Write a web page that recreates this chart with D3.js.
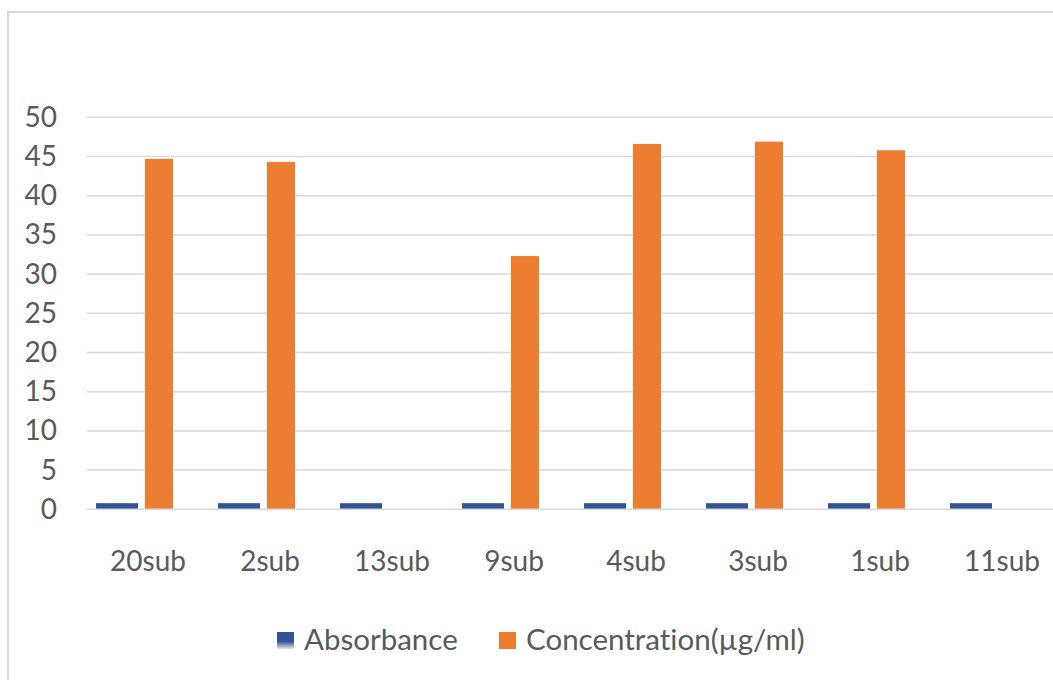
<!DOCTYPE html>
<html>
<head>
<meta charset="utf-8">
<script src="https://cdn.jsdelivr.net/npm/d3@7/dist/d3.min.js"></script>
<style>
  html, body { margin: 0; padding: 0; background: #ffffff; }
  svg { display: block; }
  text { font-family: Lato, "Open Sans", sans-serif; fill: #595959; font-variant-ligatures: none; font-feature-settings: "liga" 0, "clig" 0; }
</style>
</head>
<body>
<svg id="chart" width="1053" height="680"></svg>
<script>
// Samples on the x axis
const categories = ["20sub", "2sub", "13sub", "9sub", "4sub", "3sub", "1sub", "11sub"];
// Series values
const absorbance = [0.78, 0.78, 0.78, 0.78, 0.78, 0.78, 0.78, 0.78];
const concentration = [44.7, 44.3, 0, 32.3, 46.6, 46.9, 45.8, 0];
// Value axis ticks
const yTicks = [0, 5, 10, 15, 20, 25, 30, 35, 40, 45, 50];
const seriesNames = ["Absorbance", "Concentration(\u00b5g/ml)"];

const colors = { abs: "#2f5597", conc: "#ed7d31", grid: "#d9d9d9", frame: "#d9d9d9" };

const svg = d3.select("#chart");

const defs = svg.append("defs");
const grad = defs.append("linearGradient")
  .attr("id", "absFade").attr("x1", 0).attr("y1", 0).attr("x2", 0).attr("y2", 1);
grad.append("stop").attr("offset", "0%").attr("stop-color", colors.abs);
grad.append("stop").attr("offset", "55%").attr("stop-color", colors.abs);
grad.append("stop").attr("offset", "100%").attr("stop-color", colors.abs).attr("stop-opacity", 0.15);

// Chart frame
svg.append("rect")
  .attr("x", 8).attr("y", 12)
  .attr("width", 1080).attr("height", 700)
  .attr("fill", "none")
  .attr("stroke", colors.frame)
  .attr("stroke-width", 2);

const x = d3.scaleBand().domain(categories).range([87, 1063]).padding(0);
const y = d3.scaleLinear().domain([0, 50]).range([509.3, 117.3]);

// Horizontal gridlines
svg.append("g").selectAll("line")
  .data(yTicks.filter(t => t !== 0))
  .join("line")
  .attr("x1", 87).attr("x2", 1063)
  .attr("y1", d => y(d)).attr("y2", d => y(d))
  .attr("stroke", colors.grid)
  .attr("stroke-width", 1.5);

// Y axis labels
const yAxis = d3.axisLeft(y).tickValues(yTicks).tickSize(0).tickPadding(0);
const yG = svg.append("g").attr("transform", "translate(57,0)").call(yAxis);
yG.select(".domain").remove();
yG.selectAll("text")
  .attr("font-size", 28)
  .attr("fill", "#595959")
  .style("font-family", "Lato, 'Open Sans', sans-serif");

// Bars
const bw = x.bandwidth();
const absX0 = bw * 0.074, absW = bw * 0.344;
const concX0 = bw * 0.475, concW = bw * 0.23;

svg.append("g").selectAll("rect")
  .data(categories.map((c, i) => ({ c, v: absorbance[i] })))
  .join("rect")
  .attr("x", d => x(d.c) + absX0)
  .attr("y", d => y(d.v))
  .attr("width", absW)
  .attr("height", d => y(0) - y(d.v))
  .attr("fill", colors.abs);

svg.append("g").selectAll("rect")
  .data(categories.map((c, i) => ({ c, v: concentration[i] })))
  .join("rect")
  .attr("x", d => x(d.c) + concX0)
  .attr("y", d => y(d.v))
  .attr("width", concW)
  .attr("height", d => y(0) - y(d.v))
  .attr("fill", colors.conc);

// Baseline
svg.append("line")
  .attr("x1", 87).attr("x2", 1063)
  .attr("y1", y(0)).attr("y2", y(0))
  .attr("stroke", colors.grid)
  .attr("stroke-width", 1.5);

// Category labels
const xAxis = d3.axisBottom(x).tickSize(0).tickPadding(0);
const xG = svg.append("g").attr("transform", "translate(0,551)").call(xAxis);
xG.select(".domain").remove();
xG.selectAll("text")
  .attr("font-size", 28)
  .attr("fill", "#595959")
  .style("font-family", "Lato, 'Open Sans', sans-serif");

// Legend
const legend = svg.append("g");
const items = [
  { name: seriesNames[0], fill: "url(#absFade)", mx: 277, tx: 304 },
  { name: seriesNames[1], fill: colors.conc, mx: 499, tx: 526 }
];
items.forEach(it => {
  legend.append("rect")
    .attr("x", it.mx).attr("y", 632)
    .attr("width", 17).attr("height", 17)
    .attr("fill", it.fill);
  legend.append("text")
    .attr("x", it.tx).attr("y", 650)
    .attr("font-size", 29.5)
    .text(it.name);
});
</script>
</body>
</html>
